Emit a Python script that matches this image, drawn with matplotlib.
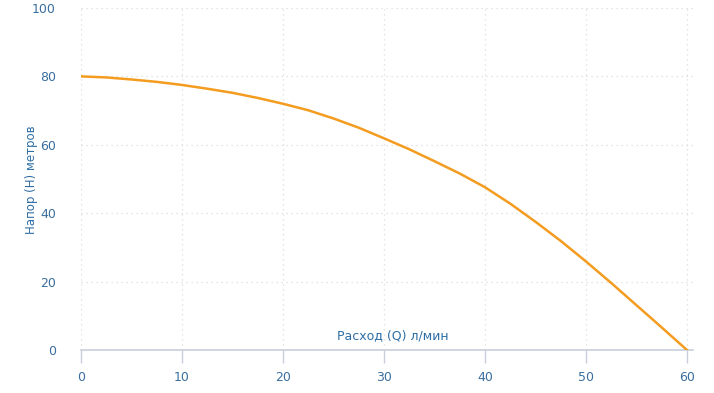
import matplotlib.pyplot as plt

flow = [0, 2.5, 5, 7.5, 10, 12.5, 15, 17.5, 20, 22.5, 25, 27.5, 30,
        32.5, 35, 37.5, 40, 42.5, 45, 47.5, 50, 52.5, 55, 57.5, 60]
head = [80, 79.7, 79.1, 78.4, 77.5, 76.4, 75.2, 73.7, 72, 70.1, 67.7, 65, 61.9,
        58.7, 55.2, 51.6, 47.6, 42.8, 37.5, 31.9, 25.9, 19.6, 13.1, 6.6, 0]
x_ticks = [0, 10, 20, 30, 40, 50, 60]
y_ticks = [0, 20, 40, 60, 80, 100]

label_color = '#2e6da4'
tick_color = '#3b6e9e'

fig = plt.figure(figsize=(7.14, 3.93), dpi=100)
ax = fig.add_axes([81/714, 1-350/393, 612/714, 342/393])

ax.plot(flow, head, color='#f39c1f', lw=1.8, solid_joinstyle='round', zorder=3)

ax.set_xlim(0, 60.6)
ax.set_ylim(0, 100)
ax.set_xticks(x_ticks)
ax.set_yticks(y_ticks)
ax.grid(True, color='#dcdcdc', linestyle=(0, (1, 3)), lw=0.9)

for s in ['top', 'right', 'left']:
    ax.spines[s].set_visible(False)
ax.spines['bottom'].set_color('#c8cfdb')
ax.spines['bottom'].set_linewidth(1.2)
ax.tick_params(axis='x', colors='#c8cfdb', length=9, width=1, labelcolor=tick_color,
               labelsize=9, pad=6)
ax.tick_params(axis='y', length=0, labelcolor=tick_color, labelsize=9, pad=18)
ax.set_axisbelow(True)

ax.text(0.51, 0.022, 'Расход (Q) л/мин', transform=ax.transAxes, ha='center',
        va='bottom', color=label_color, fontsize=9)
fig.text(31/714, 1-180/393, 'Напор (H) метров', rotation=90, ha='center',
         va='center', color=label_color, fontsize=8.5)

fig.savefig('out.png', dpi=100)
